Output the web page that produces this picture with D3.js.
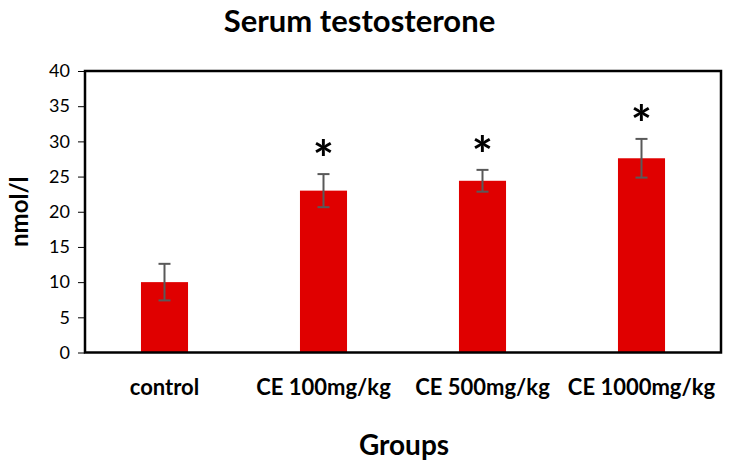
<!DOCTYPE html>
<html><head><meta charset="utf-8">
<script src="https://cdn.jsdelivr.net/npm/d3@7/dist/d3.min.js"></script>
<style>body{margin:0;background:#fff}svg{display:block}text{font-family:Lato,"Open Sans",sans-serif}</style>
</head><body>
<svg id="c" width="729" height="468"></svg>
<script>
const categories = ["control", "CE 100mg/kg", "CE 500mg/kg", "CE 1000mg/kg"];
const values = [10, 23, 24.4, 27.6];
const errors = [2.6, 2.35, 1.55, 2.75];
const significant = [false, true, true, true];
const yTicks = [0, 5, 10, 15, 20, 25, 30, 35, 40];

const svg = d3.select("#c");
const m = {l: 85, r: 721, t: 71, b: 352.5};
const x = d3.scaleBand().domain(categories).range([m.l, m.r]).paddingInner(0.704).paddingOuter(0.352);
const y = d3.scaleLinear().domain([0, 40]).range([m.b, m.t]);

// bars
svg.selectAll("rect.bar").data(categories).enter().append("rect")
  .attr("class", "bar")
  .attr("x", d => x(d)).attr("width", x.bandwidth())
  .attr("y", (d, i) => y(values[i])).attr("height", (d, i) => y(0) - y(values[i]))
  .attr("fill", "#e00000");

// error bars
const eg = svg.append("g").attr("stroke", "#595959").attr("stroke-width", 2);
categories.forEach((c, i) => {
  const cx = x(c) + x.bandwidth() / 2;
  const hi = y(values[i] + errors[i]), lo = y(values[i] - errors[i]);
  eg.append("line").attr("x1", cx).attr("x2", cx).attr("y1", hi).attr("y2", lo);
  eg.append("line").attr("x1", cx - 6).attr("x2", cx + 6).attr("y1", hi).attr("y2", hi);
  eg.append("line").attr("x1", cx - 6).attr("x2", cx + 6).attr("y1", lo).attr("y2", lo);
  if (significant[i]) {
    svg.append("text").attr("x", cx).attr("y", hi + 3)
      .attr("text-anchor", "middle").attr("font-size", 50).attr("font-weight", "bold")
      .attr("fill", "#000").text("*");
  }
});

// y axis
const ya = svg.append("g").attr("transform", `translate(${m.l},0)`)
  .call(d3.axisLeft(y).tickValues(yTicks).tickSize(7).tickPadding(8));
ya.select(".domain").remove();
ya.selectAll("line").attr("stroke", "#000").attr("stroke-width", 1);
ya.selectAll("text").attr("font-size", 18).attr("fill", "#000").style("font-family", "Lato");

// x labels
svg.selectAll("text.xl").data(categories).enter().append("text")
  .attr("class", "xl").attr("x", d => x(d) + x.bandwidth() / 2).attr("y", 394.5)
  .attr("text-anchor", "middle").attr("font-size", 22).attr("font-weight", "bold").text(d => d);

// frame
svg.append("rect").attr("x", m.l).attr("y", m.t).attr("width", m.r - m.l).attr("height", m.b - m.t)
  .attr("fill", "none").attr("stroke", "#000").attr("stroke-width", 2.5);

// titles
svg.append("text").attr("x", 359.5).attr("y", 31.5).attr("text-anchor", "middle")
  .attr("font-size", 31).attr("font-weight", "bold").text("Serum testosterone");
svg.append("text").attr("x", 404).attr("y", 455).attr("text-anchor", "middle")
  .attr("font-size", 28).attr("font-weight", "bold").text("Groups");
svg.append("text").attr("transform", "translate(28,211.7) rotate(-90)").attr("text-anchor", "middle")
  .attr("font-size", 24).attr("font-weight", "bold").text("nmol/l");
</script>
</body></html>
